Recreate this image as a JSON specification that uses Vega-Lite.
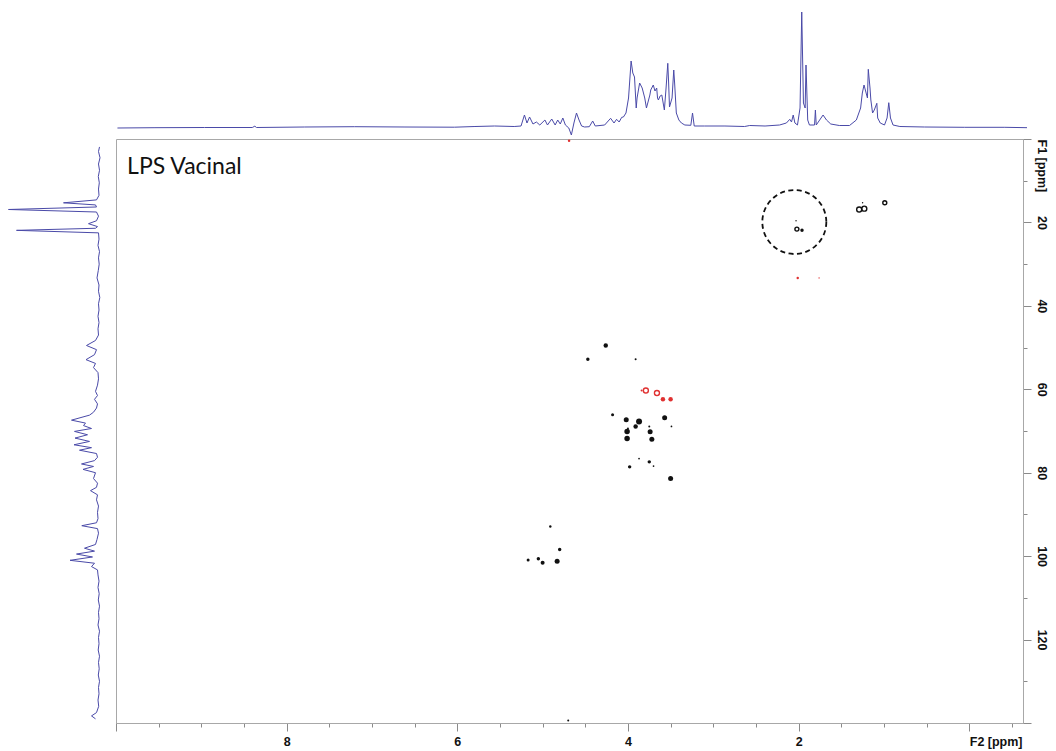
{
  "$schema": "https://vega.github.io/schema/vega-lite/v6.json",
  "background": "white",
  "padding": 5,
  "config": {"view": {"stroke": null}, "font": "Liberation Sans"},
  "datasets": {
    "top1d": [
      {"h": 10.03, "i": 0}, {"h": 9.59, "i": 0.3}, {"h": 9.01, "i": 0.5}, {"h": 8.45, "i": 0.5}, {"h": 8.42, "i": 1.8}, {"h": 8.40, "i": 0.5},
      {"h": 7.84, "i": 1}, {"h": 7.25, "i": 1.3}, {"h": 6.66, "i": 1}, {"h": 6.08, "i": 0.8}, {"h": 5.84, "i": 1.5}, {"h": 5.61, "i": 2.0},
      {"h": 5.38, "i": 1.5}, {"h": 5.30, "i": 2}, {"h": 5.26, "i": 13}, {"h": 5.23, "i": 5}, {"h": 5.20, "i": 11}, {"h": 5.16, "i": 4},
      {"h": 5.12, "i": 6}, {"h": 5.08, "i": 3}, {"h": 5.02, "i": 8}, {"h": 4.99, "i": 3}, {"h": 4.94, "i": 9}, {"h": 4.90, "i": 3},
      {"h": 4.87, "i": 8}, {"h": 4.84, "i": 4}, {"h": 4.81, "i": 10}, {"h": 4.78, "i": 3}, {"h": 4.74, "i": 0}, {"h": 4.71, "i": -7},
      {"h": 4.68, "i": 5}, {"h": 4.65, "i": 15}, {"h": 4.62, "i": 8}, {"h": 4.59, "i": 2}, {"h": 4.555, "i": 1}, {"h": 4.50, "i": 1.3},
      {"h": 4.46, "i": 7}, {"h": 4.43, "i": 2}, {"h": 4.32, "i": 3}, {"h": 4.25, "i": 9.7}, {"h": 4.21, "i": 5}, {"h": 4.18, "i": 8.7},
      {"h": 4.15, "i": 6}, {"h": 4.12, "i": 10.7}, {"h": 4.10, "i": 11}, {"h": 4.07, "i": 15}, {"h": 4.04, "i": 30}, {"h": 4.01, "i": 67},
      {"h": 3.99, "i": 55}, {"h": 3.97, "i": 51}, {"h": 3.95, "i": 20}, {"h": 3.94, "i": 30}, {"h": 3.91, "i": 45}, {"h": 3.88, "i": 40},
      {"h": 3.85, "i": 30}, {"h": 3.83, "i": 20}, {"h": 3.79, "i": 33}, {"h": 3.78, "i": 38}, {"h": 3.75, "i": 43}, {"h": 3.73, "i": 37},
      {"h": 3.71, "i": 40}, {"h": 3.70, "i": 30}, {"h": 3.69, "i": 28}, {"h": 3.67, "i": 32}, {"h": 3.65, "i": 33}, {"h": 3.62, "i": 18},
      {"h": 3.60, "i": 40}, {"h": 3.58, "i": 64.7}, {"h": 3.57, "i": 45}, {"h": 3.56, "i": 21}, {"h": 3.53, "i": 30}, {"h": 3.51, "i": 58},
      {"h": 3.50, "i": 45}, {"h": 3.48, "i": 15}, {"h": 3.45, "i": 8}, {"h": 3.42, "i": 5}, {"h": 3.38, "i": 3}, {"h": 3.31, "i": 2.7},
      {"h": 3.29, "i": 15}, {"h": 3.27, "i": 2}, {"h": 3.15, "i": 2}, {"h": 2.91, "i": 2}, {"h": 2.68, "i": 1.5}, {"h": 2.62, "i": 2.5},
      {"h": 2.44, "i": 2}, {"h": 2.27, "i": 3}, {"h": 2.19, "i": 5}, {"h": 2.15, "i": 8.7}, {"h": 2.13, "i": 6}, {"h": 2.11, "i": 13},
      {"h": 2.09, "i": 5}, {"h": 2.06, "i": 3}, {"h": 2.03, "i": 20}, {"h": 2.01, "i": 116}, {"h": 1.99, "i": 25}, {"h": 1.97, "i": 20},
      {"h": 1.96, "i": 63}, {"h": 1.94, "i": 8}, {"h": 1.92, "i": 3}, {"h": 1.86, "i": 3}, {"h": 1.85, "i": 18}, {"h": 1.84, "i": 3},
      {"h": 1.80, "i": 8}, {"h": 1.76, "i": 13}, {"h": 1.72, "i": 8}, {"h": 1.67, "i": 4}, {"h": 1.57, "i": 2.5}, {"h": 1.45, "i": 2.5},
      {"h": 1.37, "i": 8}, {"h": 1.32, "i": 20}, {"h": 1.30, "i": 35}, {"h": 1.28, "i": 43}, {"h": 1.24, "i": 30}, {"h": 1.23, "i": 58.7},
      {"h": 1.21, "i": 40}, {"h": 1.20, "i": 28}, {"h": 1.18, "i": 15}, {"h": 1.16, "i": 18}, {"h": 1.13, "i": 24.7}, {"h": 1.12, "i": 10},
      {"h": 1.09, "i": 5}, {"h": 1.04, "i": 3}, {"h": 1.01, "i": 10}, {"h": 0.99, "i": 25.3}, {"h": 0.97, "i": 10}, {"h": 0.94, "i": 3},
      {"h": 0.86, "i": 1.5}, {"h": 0.57, "i": 1}, {"h": 0.10, "i": 0.7}, {"h": -0.37, "i": 0.7}, {"h": -0.63, "i": 0.3}
    ],
    "left1d": [
      {"c": 1.9, "i": 0}, {"c": 3, "i": 1}, {"c": 4.5, "i": -0.5}, {"c": 6, "i": 1}, {"c": 7.5, "i": 0}, {"c": 9, "i": 1.2},
      {"c": 10.5, "i": 0.2}, {"c": 12, "i": 1}, {"c": 13.5, "i": 0.5}, {"c": 14.6, "i": 3}, {"c": 15.3, "i": 36}, {"c": 15.8, "i": 4},
      {"c": 16.3, "i": 3}, {"c": 16.9, "i": 91}, {"c": 17.5, "i": 3}, {"c": 18.5, "i": 1}, {"c": 19.6, "i": 3}, {"c": 20.3, "i": 11},
      {"c": 21.0, "i": 2}, {"c": 21.4, "i": 4}, {"c": 21.9, "i": 83}, {"c": 22.5, "i": 1}, {"c": 24, "i": 0.5}, {"c": 25.5, "i": 1.5},
      {"c": 27, "i": 0}, {"c": 28.5, "i": 1}, {"c": 30, "i": 0.3}, {"c": 31.5, "i": 1.2}, {"c": 33.3, "i": 2.5}, {"c": 35, "i": 0.5},
      {"c": 36.5, "i": 1}, {"c": 38, "i": -0.3}, {"c": 39.5, "i": 1}, {"c": 41, "i": 0.5}, {"c": 42.5, "i": 1.5}, {"c": 44, "i": 0.5},
      {"c": 45.5, "i": 1.5}, {"c": 47, "i": 1}, {"c": 48.3, "i": 4}, {"c": 49.5, "i": 13}, {"c": 50.5, "i": 3}, {"c": 51.7, "i": 5},
      {"c": 52.9, "i": 13.5}, {"c": 53.8, "i": 4}, {"c": 54.8, "i": 6}, {"c": 56, "i": 1.5}, {"c": 57.5, "i": 1}, {"c": 59, "i": 2},
      {"c": 60.5, "i": 4}, {"c": 61.5, "i": 2}, {"c": 62.4, "i": 5}, {"c": 63.5, "i": 2}, {"c": 64.5, "i": 3}, {"c": 65.5, "i": 6},
      {"c": 66.2, "i": 10}, {"c": 67.4, "i": 28}, {"c": 68.1, "i": 14}, {"c": 68.7, "i": 16}, {"c": 69.4, "i": 8}, {"c": 70.1, "i": 25},
      {"c": 70.9, "i": 12}, {"c": 71.7, "i": 24.5}, {"c": 72.5, "i": 10}, {"c": 73.3, "i": 25.5}, {"c": 74, "i": 8}, {"c": 74.6, "i": 20},
      {"c": 75.4, "i": 3}, {"c": 76.3, "i": 2}, {"c": 77.1, "i": 5}, {"c": 77.9, "i": 18}, {"c": 78.5, "i": 6}, {"c": 79.2, "i": 16.5},
      {"c": 80, "i": 4}, {"c": 81.4, "i": 6}, {"c": 82.5, "i": 2}, {"c": 83.5, "i": 3}, {"c": 84.3, "i": 9}, {"c": 85.3, "i": 2},
      {"c": 86.5, "i": 3}, {"c": 88, "i": 1}, {"c": 89.5, "i": 2}, {"c": 91, "i": 1.5}, {"c": 92, "i": 3}, {"c": 92.7, "i": 17.7},
      {"c": 93.4, "i": 2}, {"c": 94.5, "i": 1}, {"c": 96, "i": 2.5}, {"c": 97.2, "i": 4}, {"c": 98.1, "i": 15}, {"c": 98.8, "i": 5},
      {"c": 99.5, "i": 23}, {"c": 100.2, "i": 7}, {"c": 101.0, "i": 29.5}, {"c": 101.7, "i": 5}, {"c": 102.5, "i": 8}, {"c": 103.3, "i": 2},
      {"c": 104.5, "i": 1.5}, {"c": 106, "i": 0.5}, {"c": 107.5, "i": 1.5}, {"c": 109, "i": 0.3}, {"c": 110.5, "i": 1.2}, {"c": 112, "i": 0},
      {"c": 113.5, "i": 1}, {"c": 115, "i": 0.5}, {"c": 116.5, "i": 1.5}, {"c": 118, "i": 0}, {"c": 119.5, "i": 1}, {"c": 121, "i": 0.5},
      {"c": 122.5, "i": 1.3}, {"c": 124, "i": 0}, {"c": 125.5, "i": 1}, {"c": 127, "i": 0.3}, {"c": 128.5, "i": 1.2}, {"c": 130, "i": 0},
      {"c": 131.5, "i": 1}, {"c": 133, "i": 0.5}, {"c": 134.5, "i": 1.5}, {"c": 136, "i": 0.8}, {"c": 137.5, "i": 3}, {"c": 138.3, "i": 8},
      {"c": 139, "i": 4}
    ],
    "peaks": [
      {"h": 4.26, "c": 49.5, "phase": "positive", "vol": 20, "levels": 3},
      {"h": 4.47, "c": 52.8, "phase": "positive", "vol": 12, "levels": 3},
      {"h": 3.91, "c": 52.8, "phase": "positive", "vol": 4, "levels": 3},
      {"h": 3.59, "c": 62.4, "phase": "negative", "vol": 20, "levels": 3},
      {"h": 3.50, "c": 62.4, "phase": "negative", "vol": 20, "levels": 3},
      {"h": 3.84, "c": 60.3, "phase": "negative", "vol": 4, "levels": 3},
      {"h": 3.79, "c": 60.3, "phase": "negative", "vol": 25, "levels": 1},
      {"h": 3.66, "c": 60.9, "phase": "negative", "vol": 25, "levels": 1},
      {"h": 4.18, "c": 66.1, "phase": "positive", "vol": 9, "levels": 3},
      {"h": 4.02, "c": 67.3, "phase": "positive", "vol": 25, "levels": 3},
      {"h": 3.87, "c": 67.7, "phase": "positive", "vol": 36, "levels": 3},
      {"h": 3.91, "c": 68.9, "phase": "positive", "vol": 20, "levels": 3},
      {"h": 4.00, "c": 69.4, "phase": "positive", "vol": 4, "levels": 3},
      {"h": 4.01, "c": 70.1, "phase": "positive", "vol": 30, "levels": 3},
      {"h": 3.74, "c": 70.2, "phase": "positive", "vol": 25, "levels": 3},
      {"h": 3.75, "c": 68.9, "phase": "positive", "vol": 4, "levels": 3},
      {"h": 3.57, "c": 66.8, "phase": "positive", "vol": 25, "levels": 3},
      {"h": 3.49, "c": 68.9, "phase": "positive", "vol": 3, "levels": 3},
      {"h": 4.01, "c": 71.8, "phase": "positive", "vol": 30, "levels": 3},
      {"h": 3.72, "c": 72.0, "phase": "positive", "vol": 25, "levels": 3},
      {"h": 3.87, "c": 76.6, "phase": "positive", "vol": 3, "levels": 3},
      {"h": 3.75, "c": 77.4, "phase": "positive", "vol": 12, "levels": 3},
      {"h": 3.70, "c": 78.4, "phase": "positive", "vol": 3, "levels": 3},
      {"h": 3.98, "c": 78.6, "phase": "positive", "vol": 12, "levels": 3},
      {"h": 3.50, "c": 81.4, "phase": "positive", "vol": 25, "levels": 3},
      {"h": 4.91, "c": 92.9, "phase": "positive", "vol": 6, "levels": 3},
      {"h": 4.80, "c": 98.4, "phase": "positive", "vol": 12, "levels": 3},
      {"h": 5.17, "c": 100.9, "phase": "positive", "vol": 9, "levels": 3},
      {"h": 5.05, "c": 100.6, "phase": "positive", "vol": 12, "levels": 3},
      {"h": 5.00, "c": 101.6, "phase": "positive", "vol": 16, "levels": 3},
      {"h": 4.83, "c": 101.2, "phase": "positive", "vol": 25, "levels": 3},
      {"h": 2.01, "c": 33.3, "phase": "negative", "vol": 6, "levels": 3},
      {"h": 1.76, "c": 33.3, "phase": "negative", "vol": 2, "levels": 3},
      {"h": 1.96, "c": 21.9, "phase": "positive", "vol": 12, "levels": 3},
      {"h": 2.02, "c": 21.6, "phase": "positive", "vol": 16, "levels": 1},
      {"h": 2.03, "c": 19.6, "phase": "positive", "vol": 2, "levels": 3},
      {"h": 1.29, "c": 16.9, "phase": "positive", "vol": 25, "levels": 1},
      {"h": 1.23, "c": 16.7, "phase": "positive", "vol": 25, "levels": 1},
      {"h": 1.25, "c": 15.3, "phase": "positive", "vol": 2, "levels": 3},
      {"h": 0.99, "c": 15.3, "phase": "positive", "vol": 16, "levels": 1},
      {"h": 4.69, "c": 0.4, "phase": "negative", "vol": 6, "levels": 3},
      {"h": 4.70, "c": 139.4, "phase": "positive", "vol": 4, "levels": 3}
    ]
  },
  "vconcat": [
    {
      "hconcat": [
        {
          "width": 100, "height": 131,
          "data": {"values": [{"t": ""}]},
          "mark": {"type": "text"},
          "encoding": {"text": {"field": "t"}}
        },
        {
          "width": 907, "height": 131,
          "data": {"name": "top1d"},
          "mark": {"type": "line", "color": "#4a4aa8", "strokeWidth": 1},
          "encoding": {
            "x": {"field": "h", "type": "quantitative", "scale": {"domain": [-0.63, 10], "reverse": true, "nice": false, "zero": false}, "axis": null},
            "y": {"field": "i", "type": "quantitative", "scale": {"domain": [-8, 123], "nice": false, "zero": false}, "axis": null},
            "order": {"field": "h", "sort": "descending"}
          }
        }
      ],
      "spacing": 10
    },
    {
      "hconcat": [
        {
          "width": 100, "height": 584,
          "data": {"name": "left1d"},
          "mark": {"type": "line", "color": "#4a4aa8", "strokeWidth": 1},
          "encoding": {
            "x": {"field": "i", "type": "quantitative", "scale": {"domain": [-5.5, 94.5], "reverse": true, "nice": false, "zero": false}, "axis": null},
            "y": {"field": "c", "type": "quantitative", "scale": {"domain": [0, 140], "reverse": true, "nice": false, "zero": false}, "axis": null},
            "order": {"field": "c", "sort": "ascending"}
          }
        },
        {
          "width": 907, "height": 584,
          "view": {"stroke": "#a8a8a8", "strokeWidth": 1},
          "layer": [
            {
              "data": {"name": "peaks"},
              "transform": [{"filter": "datum.levels > 1"}],
              "mark": {"type": "circle", "opacity": 1},
              "encoding": {
                "x": {
                  "field": "h", "type": "quantitative",
                  "scale": {"domain": [-0.63, 10], "reverse": true, "nice": false, "zero": false},
                  "axis": {
                    "orient": "bottom", "title": null, "grid": false,
                    "values": [10, 9.5, 9, 8.5, 8, 7.5, 7, 6.5, 6, 5.5, 5, 4.5, 4, 3.5, 3, 2.5, 2, 1.5, 1, 0.5, 0, -0.5],
                    "labelExpr": "datum.value == 0 ? 'F2 [ppm]' : ((datum.value % 2 == 0 && datum.value > 0 && datum.value < 10) ? format(datum.value, 'd') : '')",
                    "tickSize": {"condition": {"test": "datum.value % 2 == 0", "value": 8}, "value": 4},
                    "tickColor": "#8a8a8a", "domainColor": "#a8a8a8",
                    "labelFont": "Liberation Sans", "labelFontWeight": "bold", "labelFontSize": 12.5, "labelColor": "#111111",
                    "labelPadding": 4, "labelFlush": false, "labelOverlap": false, "labelBound": false,
                    "labelAlign": {"condition": {"test": "datum.value == 0", "value": "left"}, "value": "center"}
                  }
                },
                "y": {
                  "field": "c", "type": "quantitative",
                  "scale": {"domain": [0, 140], "reverse": true, "nice": false, "zero": false},
                  "axis": {
                    "orient": "right", "title": null, "grid": false,
                    "values": [0, 5, 10, 15, 20, 25, 30, 35, 40, 45, 50, 55, 60, 65, 70, 75, 80, 85, 90, 95, 100, 105, 110, 115, 120, 125, 130, 135, 140],
                    "labelExpr": "datum.value == 0 ? 'F1 [ppm]' : ((datum.value % 20 == 0 && datum.value < 140) ? format(datum.value, 'd') : '')",
                    "tickSize": {"condition": {"test": "datum.value % 20 == 0", "value": 8}, "value": 4},
                    "tickColor": "#8a8a8a", "domainColor": "#a8a8a8",
                    "labelFont": "Liberation Sans", "labelFontWeight": "bold", "labelFontSize": 12.5, "labelColor": "#111111",
                    "labelAngle": 90, "labelBaseline": "bottom", "labelPadding": 3,
                    "labelFlush": false, "labelOverlap": false, "labelBound": false,
                    "labelAlign": {"condition": {"test": "datum.value == 0", "value": "left"}, "value": "center"}
                  }
                },
                "size": {"field": "vol", "type": "quantitative", "scale": {"domain": [0, 50], "range": [0, 50], "zero": true}, "legend": null},
                "color": {"field": "phase", "type": "nominal", "scale": {"domain": ["positive", "negative"], "range": ["#111111", "#e03131"]}, "legend": null}
              }
            },
            {
              "data": {"name": "peaks"},
              "transform": [{"filter": "datum.levels == 1"}],
              "mark": {"type": "point", "shape": "circle", "filled": false, "strokeWidth": 1.4, "opacity": 1},
              "encoding": {
                "x": {"field": "h", "type": "quantitative"},
                "y": {"field": "c", "type": "quantitative"},
                "size": {"field": "vol", "type": "quantitative", "legend": null},
                "color": {"field": "phase", "type": "nominal", "legend": null}
              }
            },
            {
              "data": {"values": [{"note": "acetyl"}]},
              "mark": {"type": "point", "shape": "circle", "filled": false, "size": 4096, "strokeWidth": 1.8, "strokeDash": [5, 3.5], "color": "#111111", "opacity": 1},
              "encoding": {
                "x": {"datum": 2.05, "type": "quantitative"},
                "y": {"datum": 19.9, "type": "quantitative"}
              }
            },
            {
              "data": {"values": [{"label": "LPS Vacinal"}]},
              "mark": {"type": "text", "font": "Lato", "fontSize": 23, "align": "left", "baseline": "middle", "color": "#111111"},
              "encoding": {
                "x": {"datum": 9.87, "type": "quantitative"},
                "y": {"datum": 6.7, "type": "quantitative"},
                "text": {"field": "label"}
              }
            }
          ]
        }
      ],
      "spacing": 10
    }
  ],
  "spacing": 1
}
